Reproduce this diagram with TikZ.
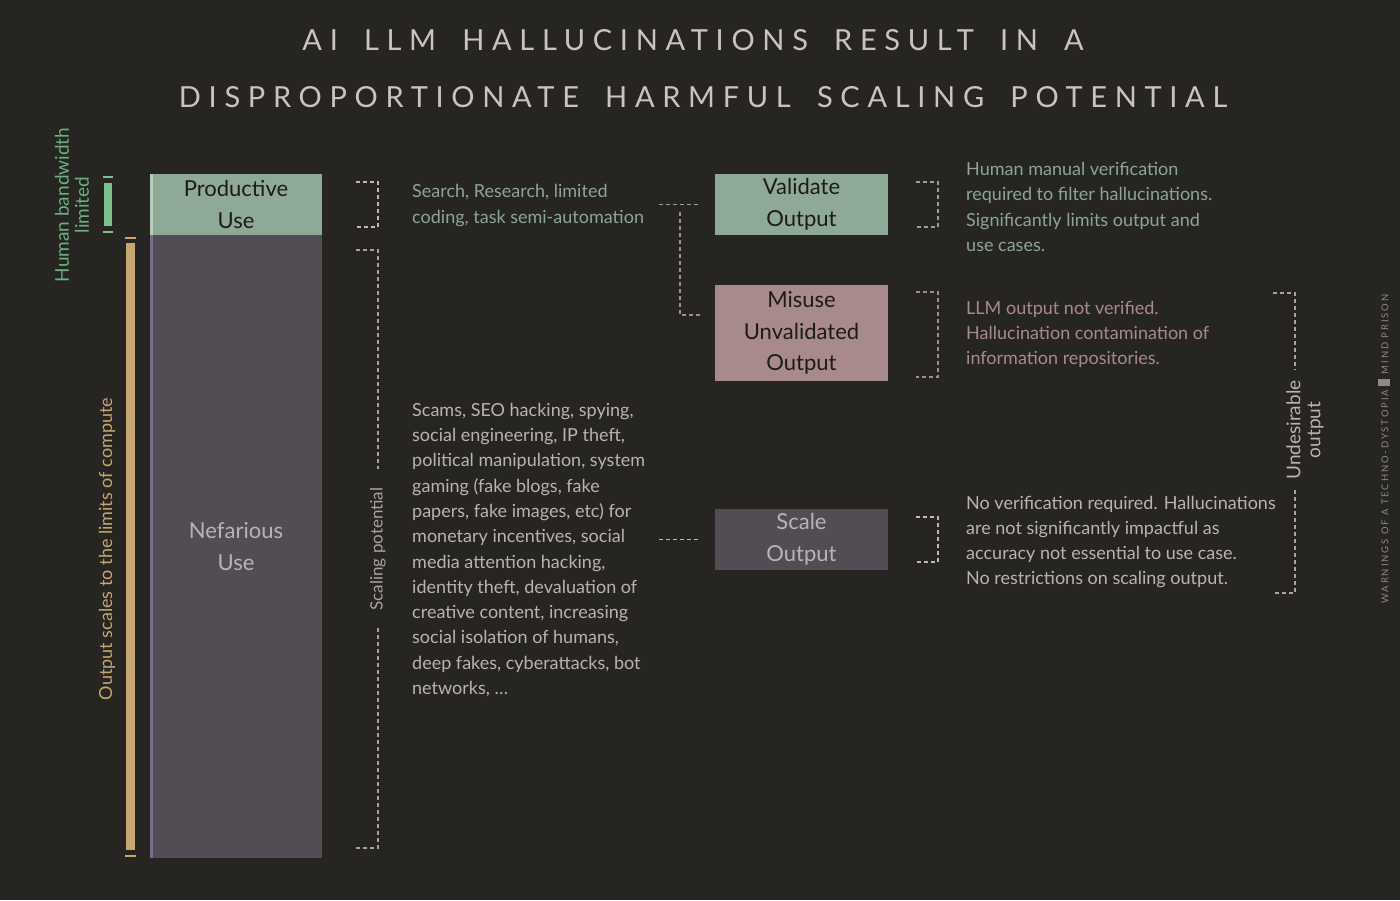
\documentclass[tikz,border=0pt]{standalone}
\usepackage{fontspec}
\setmainfont{Lato}
\newfontfamily\titlefont{Lato}[LetterSpace=26.5,WordSpace=1.73]
\newfontfamily\creditfont{Lato}[LetterSpace=20]
\definecolor{bgc}{HTML}{262522}
\definecolor{cgreen}{HTML}{8FA997}
\definecolor{cgreenl}{HTML}{B3CDBB}
\definecolor{cpurp}{HTML}{524C55}
\definecolor{cpurpl}{HTML}{7D6B8A}
\definecolor{cpink}{HTML}{A98A8C}
\definecolor{ctxtdark}{HTML}{1C1B1A}
\definecolor{cgraytxt}{HTML}{B8B4B1}
\definecolor{cgtxt}{HTML}{8DA694}
\definecolor{chbw}{HTML}{6CB07F}
\definecolor{chbar}{HTML}{7CC08F}
\definecolor{ctan}{HTML}{C7A66F}
\definecolor{ctitle}{HTML}{C9C5BD}
\definecolor{cdlight}{HTML}{BDBAB5}
\definecolor{cdgray}{HTML}{A7A4A1}
\definecolor{ccredit}{HTML}{8E8A86}
\begin{document}
\begin{tikzpicture}[x=1pt,y=-1pt,
  box/.style={minimum width=173pt, inner sep=0pt, align=center,
    font=\fontsize{22}{31.5}\selectfont},
  body/.style={anchor=west, inner sep=0pt, align=left,
    font=\fontsize{18}{25.3}\selectfont},
  title/.style={inner sep=0pt, text=ctitle,
    font=\titlefont\fontsize{29}{34}\selectfont},
  dsh/.style={line width=1.6pt, dash pattern=on 4pt off 3pt},
  rlab/.style={rotate=90, inner sep=0pt, align=center}
]
\fill[bgc] (0,0) rectangle (1400,900);
\useasboundingbox (0,0) rectangle (1400,900);

% title
\node[title] (t1) at (693,40) {AI LLM HALLUCINATIONS RESULT IN A};
\node[title] (t2) at (703,97) {DISPROPORTIONATE HARMFUL SCALING POTENTIAL};

% left scale bars
\fill[chbar] (104,183) rectangle (112,226);
\fill[chbar] (103,176) rectangle (113,178);
\fill[chbar] (103,231) rectangle (113,233);
\fill[ctan] (126,243) rectangle (135,850);
\fill[ctan] (125,236.5) rectangle (136,238.5);
\fill[ctan] (125,855) rectangle (136,857);
\node[rlab, text=chbw, font=\fontsize{19}{20}\selectfont] (hbw) at (72,205) {Human bandwidth\\limited};
\node[rlab, text=ctan, font=\fontsize{18}{20}\selectfont] (osc) at (107,549) {Output scales to the limits of compute};

% main column
\node[box, fill=cgreen, minimum width=172pt, minimum height=61pt, text=ctxtdark] (prod) at (236,204.5) {Productive\\Use};
\node[box, fill=cpurp, minimum width=172pt, minimum height=623pt, text=cgraytxt] (nef) at (236,546.5) {Nefarious\\Use};
\fill[cgreenl] (prod.north west) rectangle ([xshift=3.5pt]prod.south west);
\fill[cpurpl] (nef.north west) rectangle ([xshift=3.5pt]nef.south west);

% brackets of main column
\draw[dsh, cdlight] (356,182) -- (378,182) -- (378,227) -- (356,227);
\draw[dsh, cdgray] (356,250) -- (378,250) -- (378,469);
\draw[dsh, cdgray] (378,628) -- (378,848) -- (356,848);
\node[rlab, text=cdgray, font=\fontsize{17}{20}\selectfont] (scp) at (378,549) {Scaling potential};

% descriptions
\node[body, text=cgtxt] (srch) at (412,205.5) {Search, Research, limited\\coding, task semi-automation};
\node[body, text=cgraytxt] (neft) at (412,550) {Scams, SEO hacking, spying,\\social engineering, IP theft,\\political manipulation, system\\gaming (fake blogs, fake\\papers, fake images, etc) for\\monetary incentives, social\\media attention hacking,\\identity theft, devaluation of\\creative content, increasing\\social isolation of humans,\\deep fakes, cyberattacks, bot\\networks, \dots};

% output boxes
\node[box, fill=cgreen, minimum height=61pt, text=ctxtdark] (val) at (801.5,204.5) {Validate\\Output};
\node[box, fill=cpink, minimum height=96pt, text=ctxtdark] (mis) at (801.5,333) {Misuse\\Unvalidated\\Output};
\node[box, fill=cpurp, minimum height=61pt, text=cgraytxt] (scl) at (801.5,539.5) {Scale\\Output};

% connectors
\coordinate (c1) at (659,204.5);
\coordinate (c2) at (680,212);
\coordinate (c3) at (680,315);
\coordinate (c4) at (701.5,315);
\coordinate (c5) at (659,539.5);
\draw[dsh, cgtxt] (c1) -- ([xshift=-14pt]val.west);
\draw[dsh, cpink] (c2) -- (c3) -- (c4);
\draw[dsh, cdlight] (c5) -- ([xshift=-14pt]scl.west);

% brackets of output boxes
\draw[dsh, cgtxt] (916,182) -- (938,182) -- (938,227) -- (916,227);
\draw[dsh, cpink] (916,292) -- (938,292) -- (938,377) -- (916,377);
\draw[dsh, cdlight] (916,517) -- (938,517) -- (938,562) -- (916,562);

% right descriptions
\node[body, text=cgtxt] (valt) at (966,207) {Human manual verification\\required to filter hallucinations.\\Significantly limits output and\\use cases.};
\node[body, text=cpink] (mist) at (966,334.5) {LLM output not verified.\\Hallucination contamination of\\information repositories.};
\node[body, text=cgraytxt] (sclt) at (966,542) {No verification required. Hallucinations\\are not significantly impactful as\\accuracy not essential to use case.\\No restrictions on scaling output.};

% undesirable bracket
\draw[dsh, cdgray] (1273,293) -- (1295,293) -- (1295,370);
\draw[dsh, cdgray] (1295,490) -- (1295,593) -- (1273,593);
\node[rlab, text=cgraytxt, font=\fontsize{19}{20}\selectfont] (und) at (1305,430) {Undesirable\\output};

% credit
\node[rlab, text=ccredit, font=\creditfont\fontsize{9.5}{10}\selectfont] (cred) at (1384,449) {WARNINGS OF A TECHNO-DYSTOPIA \textcolor{ccredit}{\rule[-1.5pt]{7pt}{11.5pt}} MIND PRISON};
\end{tikzpicture}
\end{document}
